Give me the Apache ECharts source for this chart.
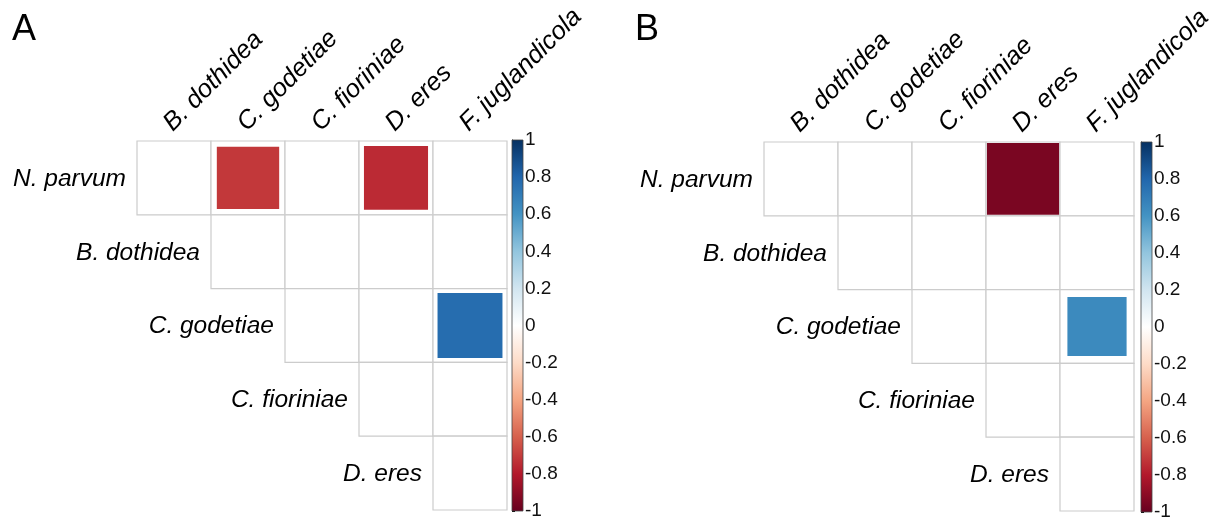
<!DOCTYPE html>
<html><head><meta charset="utf-8">
<script src="https://cdn.jsdelivr.net/npm/echarts@6/dist/echarts.min.js"></script>
<style>html,body{margin:0;padding:0;background:#fff}#c{width:1215px;height:517px}</style>
</head><body><div id="c"></div>
<script>
// ---------- data ----------
const rowLabels = ['N. parvum', 'B. dothidea', 'C. godetiae', 'C. fioriniae', 'D. eres'];
const colLabels = ['B. dothidea', 'C. godetiae', 'C. fioriniae', 'D. eres', 'F. juglandicola'];
// Panel A correlations (null = blank / not significant); row i uses columns j >= i
const corrA = [
  [null, -0.71, null, -0.75, null],
  [null, null, null, null, null],
  [null, null, null, null, 0.77],
  [null, null, null, null, null],
  [null, null, null, null, null]
];
// Panel B correlations
const corrB = [
  [null, null, null, -0.95, null],
  [null, null, null, null, null],
  [null, null, null, null, 0.64],
  [null, null, null, null, null],
  [null, null, null, null, null]
];
const panelLetters = ['A', 'B'];
const colorMin = -1, colorMax = 1, colorStep = 0.2;
const palette = ['#67001F', '#B2182B', '#D6604D', '#F4A582', '#FDDBC7', '#FFFFFF',
                 '#D1E5F0', '#92C5DE', '#4393C3', '#2166AC', '#053061'];

// ---------- layout ----------
const FONT = '"Liberation Sans", Arial, sans-serif';
const layouts = [
  { main: { left: 137, top: 141, width: 370, height: 369 }, bar: { left: 512, top: 140, width: 11, height: 371 }, letter: { left: 12, top: 12 } },
  { main: { left: 764, top: 142, width: 370, height: 369 }, bar: { left: 1141, top: 142, width: 11, height: 370 }, letter: { left: 635, top: 12 } }
];
const corrs = [corrA, corrB];

const cells = [];
rowLabels.forEach((r, i) => colLabels.forEach((c, j) => { if (j >= i) cells.push([j, i]); }));
const squaresOf = m => {
  const out = [];
  m.forEach((row, i) => row.forEach((v, j) => { if (v !== null && j >= i) out.push([j, i, v]); }));
  return out;
};
const rowLabelData = rowLabels.map((l, i) => [i, i]);

function renderCell(params, api) {
  const c = api.coord([api.value(0), api.value(1)]);
  const s = api.size([1, 1]);
  return { type: 'rect', shape: { x: c[0] - s[0] / 2, y: c[1] - s[1] / 2, width: s[0], height: s[1] },
    style: { fill: '#fff', stroke: '#cccccc', lineWidth: 1.2 } };
}
function renderSquare(params, api) {
  const c = api.coord([api.value(0), api.value(1)]);
  const s = api.size([1, 1]);
  const f = Math.sqrt(Math.abs(api.value(2)));
  const w = s[0] * f, h = s[1] * f;
  return { type: 'rect', shape: { x: c[0] - w / 2, y: c[1] - h / 2, width: w, height: h },
    style: { fill: api.visual('color') } };
}
function renderRowLabel(params, api) {
  const i = api.value(1);
  const c = api.coord([i, i]);
  const s = api.size([1, 1]);
  return { type: 'text', x: c[0] - s[0] / 2 - 11, y: c[1] + 1,
    style: { text: rowLabels[params.dataIndex], align: 'right', verticalAlign: 'middle',
      font: 'italic 24.5px ' + FONT, fill: '#000' } };
}
const gradStops = palette.slice().reverse().map((col, k) => ({ offset: k / (palette.length - 1), color: col }));
function renderBar(params, api) {
  const p0 = api.coord([0, colorMax]);
  const p1 = api.coord([1, colorMin]);
  return { type: 'rect', shape: { x: p0[0], y: p0[1], width: p1[0] - p0[0], height: p1[1] - p0[1] },
    style: { fill: { type: 'linear', x: 0, y: 0, x2: 0, y2: 1, colorStops: gradStops }, stroke: '#444', lineWidth: 0.8 } };
}

const grid = [], xAxis = [], yAxis = [], series = [], title = [], squareSeries = [];
layouts.forEach((L, p) => {
  const gm = grid.length;
  grid.push(Object.assign({ containLabel: false, outerBoundsMode: 'none' }, L.main));
  grid.push(Object.assign({ containLabel: false, outerBoundsMode: 'none' }, L.bar));
  xAxis.push({ type: 'category', gridIndex: gm, data: colLabels, position: 'top',
    axisLine: { show: false }, axisTick: { show: false }, splitLine: { show: false },
    axisLabel: { rotate: -45, interval: 0, margin: 2, padding: [0, 0, 0, 4], verticalAlign: 'bottom', align: 'left',
      fontFamily: FONT, fontStyle: 'italic', fontSize: 25.5, color: '#000' } });
  xAxis.push({ type: 'value', gridIndex: gm + 1, min: 0, max: 1, show: false });
  yAxis.push({ type: 'category', gridIndex: gm, data: rowLabels, inverse: true, show: false });
  yAxis.push({ type: 'value', gridIndex: gm + 1, min: colorMin, max: colorMax, interval: colorStep, position: 'right',
    axisLine: { show: true, lineStyle: { color: '#000', width: 1 } },
    axisTick: { show: true, length: 3, lineStyle: { color: '#000', width: 1 } },
    splitLine: { show: false },
    axisLabel: { margin: 2, fontFamily: FONT, fontSize: 19, color: '#111',
      formatter: v => String(+v.toFixed(1)) } });
  series.push({ type: 'custom', xAxisIndex: gm, yAxisIndex: gm, data: cells, renderItem: renderCell, silent: true, z: 1 });
  squareSeries.push(series.length);
  series.push({ type: 'custom', xAxisIndex: gm, yAxisIndex: gm, data: squaresOf(corrs[p]), renderItem: renderSquare, silent: true, z: 2 });
  series.push({ type: 'custom', xAxisIndex: gm, yAxisIndex: gm, data: rowLabelData, renderItem: renderRowLabel, silent: true, z: 3, clip: false });
  series.push({ type: 'custom', xAxisIndex: gm + 1, yAxisIndex: gm + 1, data: [[0, 0]], renderItem: renderBar, silent: true, z: 2 });
  title.push({ text: panelLetters[p], left: L.letter.left, top: L.letter.top, padding: 0,
    textStyle: { fontFamily: FONT, fontSize: 36, fontWeight: 'normal', color: '#000' } });
});

const chart = echarts.init(document.getElementById('c'), null, { renderer: 'canvas' });
chart.setOption({
  animation: false,
  backgroundColor: '#fff',
  title, grid, xAxis, yAxis, series,
  visualMap: { type: 'continuous', show: false, min: colorMin, max: colorMax, dimension: 2,
    seriesIndex: squareSeries, inRange: { color: palette } }
});
</script></body></html>
